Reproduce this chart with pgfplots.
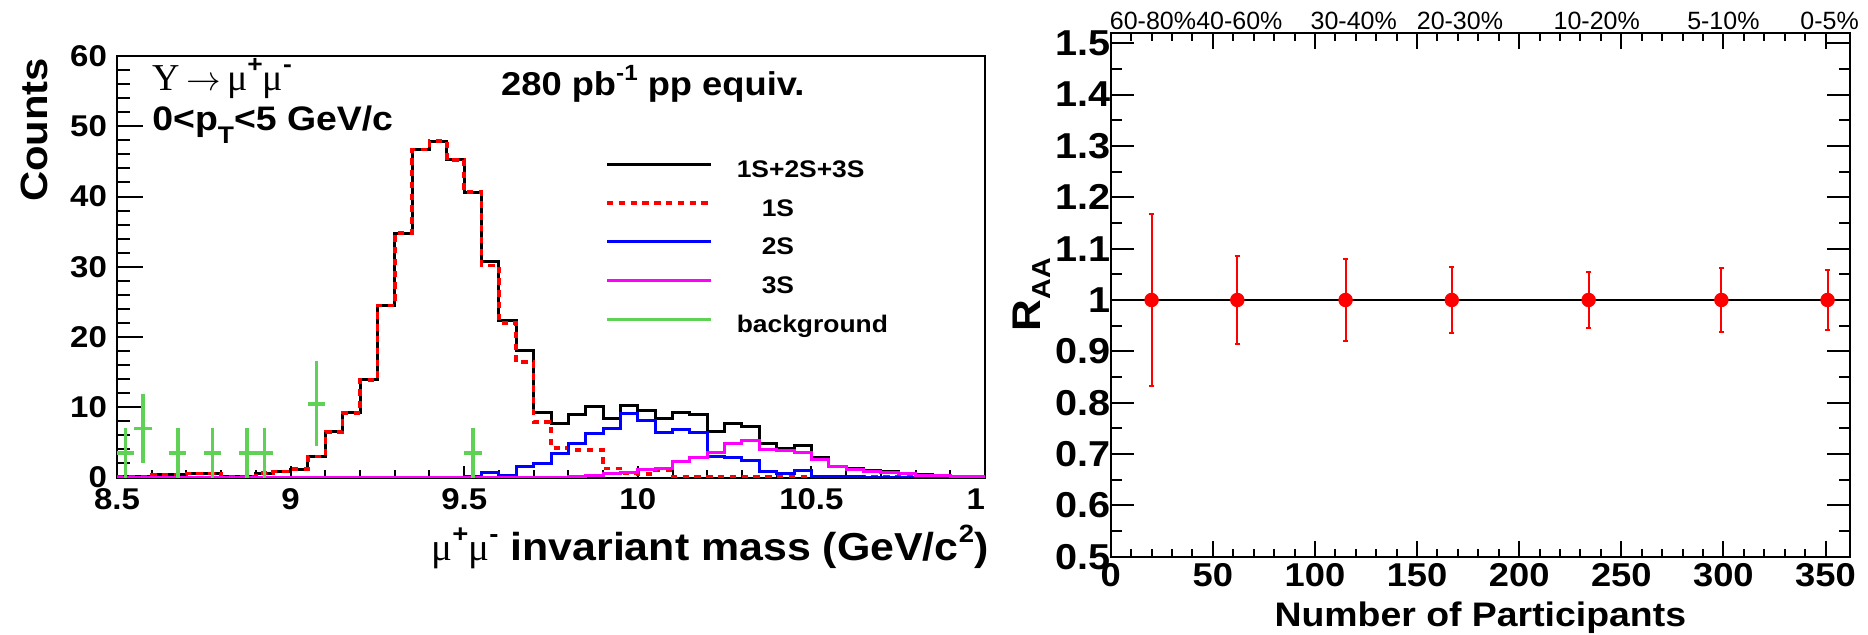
\documentclass[border=0pt]{standalone}
\usepackage{pgfplots}
\pgfplotsset{compat=1.18}
\usepackage{pgfplotstable}
\usepackage{fontspec}
\setmainfont{Liberation Sans}[FakeStretch=1.1]
\newfontfamily\symf{Liberation Serif}
\newfontfamily\plainf{Liberation Sans}
\definecolor{rootgreen}{RGB}{95,210,85}
\definecolor{rootmag}{RGB}{255,0,255}
\definecolor{rootblue}{RGB}{0,0,255}
\definecolor{rootred}{RGB}{255,0,0}

\pgfplotstableread{
x tot s1 s2 s3
8.50 0.1 0.1 0.02 0.02
8.55 0.1 0.1 0.02 0.02
8.60 0.4 0.4 0.02 0.02
8.65 0.4 0.4 0.02 0.02
8.70 0.55 0.55 0.02 0.02
8.75 0.55 0.55 0.02 0.02
8.80 0.1 0.1 0.02 0.02
8.85 0.1 0.1 0.02 0.02
8.90 0.6 0.6 0.02 0.02
8.95 0.85 0.85 0.02 0.02
9.00 1.2 1.2 0.02 0.02
9.05 3.0 3.0 0.02 0.02
9.10 6.5 6.5 0.02 0.02
9.15 9.2 9.2 0.02 0.02
9.20 13.9 13.9 0.02 0.02
9.25 24.5 24.5 0.02 0.02
9.30 34.8 34.8 0.02 0.02
9.35 46.7 46.7 0.02 0.02
9.40 47.9 47.9 0.02 0.02
9.45 45.2 45.2 0.05 0.02
9.50 40.6 40.6 0.1 0.02
9.55 30.8 30.2 0.7 0.02
9.60 22.4 22.0 0.3 0.02
9.65 18.1 16.4 1.5 0.02
9.70 9.3 7.9 2.0 0.02
9.75 7.7 4.2 3.4 0.05
9.80 8.9 3.9 4.9 0.1
9.85 10.1 3.9 6.2 0.3
9.90 8.4 1.3 7.0 0.6
9.95 10.3 0.6 9.1 0.7
10.00 9.6 0.5 8.1 1.1
10.05 8.4 1.0 6.4 1.3
10.10 9.2 0.05 6.8 2.3
10.15 9.0 0.05 6.4 2.8
10.20 6.5 0.05 3.0 3.6
10.25 7.7 0.05 2.9 4.8
10.30 7.3 0.05 2.4 5.2
10.35 4.8 0.05 0.9 4.0
10.40 4.2 0.05 0.5 3.8
10.45 4.5 0.05 1.0 3.5
10.50 2.9 0.05 0.2 2.6
10.55 1.5 0.05 0.1 1.6
10.60 1.3 0.05 0.1 1.2
10.65 1.0 0.05 0.05 0.9
10.70 0.8 0.05 0.05 0.7
10.75 0.6 0.05 0.05 0.55
10.80 0.4 0.05 0.05 0.35
10.85 0.3 0.05 0.05 0.3
10.90 0.2 0.05 0.05 0.2
10.95 0.1 0.05 0.05 0.15
11.00 0.1 0.05 0.05 0.15
}\histo

\pgfplotstableread{
x y ex ey
8.525 3.5 0.025 3.5
8.575 7.0 0.025 4.95
8.675 3.5 0.025 3.5
8.775 3.5 0.025 3.5
8.875 3.5 0.025 3.5
8.925 3.5 0.025 3.5
9.075 10.5 0.025 6.06
9.525 3.5 0.025 3.5
}\bkg

\pgfplotstableread{
x y ey
20 1 0.167
62 1 0.085
115 1 0.079
167 1 0.065
234 1 0.055
299 1 0.062
351 1 0.058
}\raa

\begin{document}
\begin{tikzpicture}
\useasboundingbox (0,0) rectangle (934pt,317pt);
% ---------------- left panel ----------------
\begin{axis}[
  at={(58.5pt,78.25pt)}, anchor=south west,
  scale only axis, width=434pt, height=210.75pt,
  xmin=8.5, xmax=11, ymin=0, ymax=60,
  clip=true,
  xtick={8.5,9,9.5,10,10.5,11},
  xticklabels={8.5,9,9.5,10,10.5,1\phantom{1}},
  ytick={0,10,20,30,40,50,60},
  minor x tick num=4, minor y tick num=4,
  xtick pos=left, ytick pos=left,
  tick align=inside,
  axis line style={line width=1pt},
  tick style={line width=1pt, black},
  xtick style={/pgfplots/major tick length=6pt, /pgfplots/minor tick length=4pt},
  ytick style={/pgfplots/major tick length=13pt, /pgfplots/minor tick length=6.5pt},
  /pgf/number format/assume math mode=true,
  tick label style={font=\fontsize{15}{15}\selectfont\bfseries},
  xticklabel style={yshift=-2pt},
  yticklabel style={xshift=-1.5pt},
  xlabel={{\symf\mdseries μ}\raisebox{0.45em}{\fontsize{12.5}{12}\selectfont\bfseries +}{\symf\mdseries μ}\raisebox{0.45em}{\fontsize{12.5}{12}\selectfont\bfseries -} invariant mass (GeV/c\raisebox{0.45em}{\fontsize{12.5}{12}\selectfont 2})},
  xlabel style={font=\fontsize{19.5}{20}\selectfont\bfseries, at={(rel axis cs:1.012,0)}, anchor=base east, yshift=-41.25pt},
  ylabel={Counts},
  ylabel style={font=\fontsize{19}{20}\selectfont\bfseries, at={(rel axis cs:-0.0806,1.012)}, anchor=base east},
  legend image code/.code={\draw[#1] (0pt,3.5pt) -- (52pt,3.5pt);},
  legend style={draw=none, fill=none, inner sep=0pt, row sep=7.3pt,
    at={(rel axis cs:0.562,0.755)}, anchor=north west,
    font=\fontsize{12}{12}\selectfont\bfseries,
    nodes={inner sep=0pt, text height=9pt, text depth=3pt},
    /tikz/every odd column/.append style={column sep=12pt}},
  legend cell align=left,
]
\addplot[const plot mark left, black, line width=1.5pt] table[x=x, y=tot] {\histo};
\addlegendentry{1S+2S+3S}
\addplot[const plot mark left, rootred, line width=1.8pt, dash pattern=on 3.2pt off 2.7pt] table[x=x, y=s1] {\histo};
\addlegendentry{\hspace{12.5pt}1S}
\addplot[const plot mark left, rootblue, line width=1.5pt] table[x=x, y=s2] {\histo};
\addlegendentry{\hspace{12.5pt}2S}
\addplot[const plot mark left, rootmag, line width=1.5pt] table[x=x, y=s3] {\histo};
\addlegendentry{\hspace{12.5pt}3S}
\addplot[draw=none, mark=none,
  legend image code/.code={\draw[rootgreen, line width=1.5pt] (0pt,3.5pt) -- (52pt,3.5pt);},
  error bars/.cd, x dir=both, x explicit, y dir=both, y explicit,
  error mark=none, error bar style={draw=rootgreen, line width=1.8pt}]
  table[x=x, y=y, x error=ex, y error=ey] {\bkg};
\addlegendentry{background}
\end{axis}
% texts of left panel
\node[anchor=base west, inner sep=0pt, font=\fontsize{19}{19}\selectfont] at (76pt,272pt)
  {{\symf Υ}\,$\rightarrow$\,{\symf μ}\raisebox{0.45em}{\fontsize{12}{12}\selectfont\bfseries +}{\symf μ}\raisebox{0.45em}{\fontsize{12}{12}\selectfont\bfseries -}};
\node[anchor=base west, inner sep=0pt, font=\fontsize{17}{17}\selectfont\bfseries] at (76pt,252pt)
  {0<p\raisebox{-0.4em}{\fontsize{12}{12}\selectfont T}<5 GeV/c};
\node[anchor=base west, inner sep=0pt, font=\fontsize{16.5}{17}\selectfont\bfseries] at (250.4pt,269.5pt)
  {280 pb\raisebox{0.45em}{\fontsize{11}{11}\selectfont -1} pp equiv.};
% ---------------- right panel ----------------
\begin{axis}[
  at={(555.35pt,38.65pt)}, anchor=south west,
  scale only axis, width=369.65pt, height=261.85pt,
  xmin=0, xmax=362, ymin=0.5, ymax=1.52,
  clip=false,
  xtick={0,50,100,150,200,250,300,350},
  ytick={0.5,0.6,0.7,0.8,0.9,1,1.1,1.2,1.3,1.4,1.5},
  yticklabels={0.5,0.6,0.7,0.8,0.9,1,1.1,1.2,1.3,1.4,1.5},
  minor x tick num=4, minor y tick num=1,
  xtick pos=both, ytick pos=both,
  xticklabel pos=left, yticklabel pos=left,
  tick align=inside,
  axis line style={line width=1pt},
  tick style={line width=1pt, black},
  xtick style={/pgfplots/major tick length=8pt, /pgfplots/minor tick length=4pt},
  ytick style={/pgfplots/major tick length=11.5pt, /pgfplots/minor tick length=5.5pt},
  /pgf/number format/assume math mode=true,
  tick label style={font=\fontsize{17}{17}\selectfont\bfseries},
  xticklabel style={font=\fontsize{16.5}{17}\selectfont\bfseries},
  yticklabel style={xshift=3.5pt, font=\fontsize{18}{18}\selectfont\bfseries},
  xlabel={Number of Participants},
  xlabel style={font=\fontsize{17}{18}\selectfont\bfseries, at={(rel axis cs:0.5,0)}, anchor=base, yshift=-35pt},
  ylabel={R\raisebox{-5pt}{\fontsize{13}{13}\selectfont AA}},
  ylabel style={font=\fontsize{20}{20}\selectfont\bfseries, at={(rel axis cs:-0.095,0.5)}, anchor=base},
]
\addplot[black, line width=1.2pt] coordinates {(0,1) (362,1)};
\addplot[rootred, only marks, mark=*, mark size=3.4pt, mark options={fill=rootred, draw=rootred},
  error bars/.cd, y dir=both, y explicit,
  error bar style={rootred, line width=1pt},
  error mark options={rootred, line width=1pt, mark size=1.3pt, rotate=90}]
  table[x=x, y=y, y error=ey] {\raa};
\node[anchor=base, inner sep=0pt, font=\plainf\fontsize{12.5}{12.5}\selectfont] at (axis cs:20.7,1.52) [yshift=2pt] {60-80\%};
\node[anchor=base, inner sep=0pt, font=\plainf\fontsize{12.5}{12.5}\selectfont] at (axis cs:63,1.52) [yshift=2pt] {40-60\%};
\node[anchor=base, inner sep=0pt, font=\plainf\fontsize{12.5}{12.5}\selectfont] at (axis cs:119,1.52) [yshift=2pt] {30-40\%};
\node[anchor=base, inner sep=0pt, font=\plainf\fontsize{12.5}{12.5}\selectfont] at (axis cs:171,1.52) [yshift=2pt] {20-30\%};
\node[anchor=base, inner sep=0pt, font=\plainf\fontsize{12.5}{12.5}\selectfont] at (axis cs:238,1.52) [yshift=2pt] {10-20\%};
\node[anchor=base, inner sep=0pt, font=\plainf\fontsize{12.5}{12.5}\selectfont] at (axis cs:300,1.52) [yshift=2pt] {5-10\%};
\node[anchor=base, inner sep=0pt, font=\plainf\fontsize{12.5}{12.5}\selectfont] at (axis cs:352,1.52) [yshift=2pt] {0-5\%};
\node[anchor=base west, inner sep=0pt, font=\fontsize{16}{16}\selectfont\bfseries] at (580.5pt,276.5pt)
  {300 pb\raisebox{0.45em}{\fontsize{11}{11}\selectfont -1} p+p, 20 nb\raisebox{0.45em}{\fontsize{11}{11}\selectfont -1} Au+Au};
\end{axis}
\end{tikzpicture}
\end{document}
